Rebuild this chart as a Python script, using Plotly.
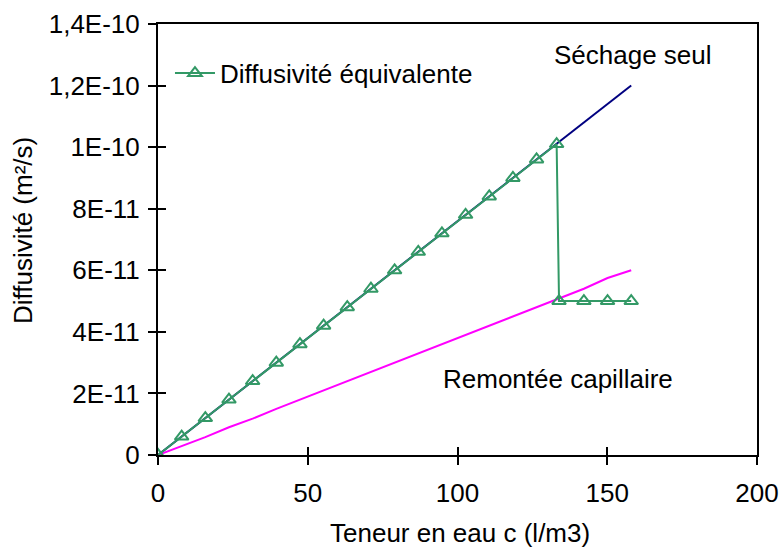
import plotly.graph_objects as go

# ---- data (x: water content l/m3, y: diffusivity m2/s) ----
x_sechage = [0, 7.9, 15.8, 23.7, 31.6, 39.5, 47.4, 55.3, 63.2, 71.1, 79.0,
             86.9, 94.8, 102.7, 110.6, 118.5, 126.4, 134.3, 142.2, 150.1, 158.0]
y_sechage = [0, 0.6e-11, 1.2e-11, 1.8e-11, 2.4e-11, 3.0e-11, 3.6e-11, 4.2e-11,
             4.8e-11, 5.4e-11, 6.0e-11, 6.6e-11, 7.2e-11, 7.8e-11, 8.4e-11,
             9.0e-11, 9.6e-11, 10.2e-11, 10.8e-11, 11.4e-11, 12.0e-11]

x_remontee = [0, 7.9, 15.8, 23.7, 31.6, 39.5, 47.4, 55.3, 63.2, 71.1, 79.0,
              86.9, 94.8, 102.7, 110.6, 118.5, 126.4, 134.3, 142.2, 150.1, 158.0]
y_remontee = [0, 0.28e-11, 0.58e-11, 0.9e-11, 1.18e-11, 1.5e-11, 1.8e-11, 2.08e-11,
              2.4e-11, 2.68e-11, 3.0e-11, 3.3e-11, 3.6e-11, 3.9e-11, 4.2e-11,
              4.5e-11, 4.8e-11, 5.1e-11, 5.4e-11, 5.75e-11, 6.0e-11]

x_equiv = [0, 7.9, 15.8, 23.7, 31.6, 39.5, 47.4, 55.3, 63.2, 71.1, 79.0,
           86.9, 94.8, 102.7, 110.6, 118.5, 126.4, 133.1, 133.9, 142.2, 150.1, 158.0]
y_equiv = [0, 0.6e-11, 1.2e-11, 1.8e-11, 2.4e-11, 3.0e-11, 3.6e-11, 4.2e-11,
           4.8e-11, 5.4e-11, 6.0e-11, 6.6e-11, 7.2e-11, 7.8e-11, 8.4e-11,
           9.0e-11, 9.6e-11, 10.1e-11, 5.0e-11, 5.0e-11, 5.0e-11, 5.0e-11]

x_ticks = [0, 50, 100, 150, 200]
x_ticktext = ["0", "50", "100", "150", "200"]
y_ticks = [0, 2e-11, 4e-11, 6e-11, 8e-11, 1e-10, 1.2e-10, 1.4e-10]
y_ticktext = ["0", "2E-11", "4E-11", "6E-11", "8E-11", "1E-10", "1,2E-10", "1,4E-10"]

FONT = "Arial, Liberation Sans, sans-serif"
FS = 26

fig = go.Figure()
fig.add_trace(go.Scatter(x=x_sechage, y=y_sechage, mode="lines",
                         line=dict(color="#000080", width=2), showlegend=False))
fig.add_trace(go.Scatter(x=x_remontee, y=y_remontee, mode="lines",
                         line=dict(color="#FF00FF", width=2), showlegend=False))
fig.add_trace(go.Scatter(x=x_equiv, y=y_equiv, mode="lines+markers",
                         name="Diffusivité équivalente",
                         line=dict(color="#339966", width=2),
                         marker=dict(symbol="triangle-up-open", size=12,
                                     color="#339966", line=dict(width=2, color="#339966"))))
# hidden trace to activate overlay axes (inside tick marks)
fig.add_trace(go.Scatter(x=[None], y=[None], xaxis="x2", yaxis="y2",
                         showlegend=False, hoverinfo="skip"))

common = dict(showgrid=False, zeroline=False, linecolor="black", linewidth=2,
              tickcolor="black", tickwidth=2, ticklen=8, automargin=False,
              tickfont=dict(family=FONT, size=FS, color="black"))

fig.update_layout(
    width=783, height=551,
    margin=dict(l=158, r=26, t=24, b=96, autoexpand=False),
    paper_bgcolor="white", plot_bgcolor="white",
    font=dict(family=FONT, size=FS, color="black"),
    xaxis=dict(range=[0, 200], tickvals=x_ticks, ticktext=x_ticktext,
               ticks="outside", showline=True, mirror=True,
               ticklabelstandoff=6, **common),
    yaxis=dict(range=[0, 1.4e-10], tickvals=y_ticks, ticktext=y_ticktext,
               ticks="outside", showline=True, mirror=True,
               ticklabelstandoff=3, **common),
    xaxis2=dict(overlaying="x", matches="x", anchor="y2", side="bottom",
                tickvals=x_ticks, ticks="inside", showticklabels=False,
                showline=False, showgrid=False, zeroline=False, automargin=False,
                tickcolor="black", tickwidth=2, ticklen=8),
    yaxis2=dict(overlaying="y", matches="y", anchor="x2", side="left",
                tickvals=y_ticks, ticks="inside", showticklabels=False,
                showline=False, showgrid=False, zeroline=False, automargin=False,
                tickcolor="black", tickwidth=2, ticklen=8),
    showlegend=True,
    legend=dict(x=0.02, y=0.886, xanchor="left", yanchor="middle",
                bgcolor="rgba(0,0,0,0)", font=dict(family=FONT, size=FS),
                itemwidth=40),
    annotations=[
        dict(text="Séchage seul", x=158.6, y=13.0e-11, xref="x", yref="y",
             showarrow=False, font=dict(family=FONT, size=FS)),
        dict(text="Remontée capillaire", x=133.4, y=2.48e-11, xref="x", yref="y",
             showarrow=False, font=dict(family=FONT, size=FS)),
        dict(text="Teneur en eau c (l/m3)", x=0.505, y=-0.181, xref="paper", yref="paper",
             xanchor="center", yanchor="middle", showarrow=False,
             font=dict(family=FONT, size=FS)),
        dict(text="Diffusivité (m²/s)", x=-0.225, y=0.52, xref="paper", yref="paper",
             xanchor="center", yanchor="middle", textangle=-90, showarrow=False,
             font=dict(family=FONT, size=FS)),
    ],
)

fig.write_html("out.html", config={"displayModeBar": False},
               post_script="document.body.style.margin='0';document.body.style.padding='0';")
